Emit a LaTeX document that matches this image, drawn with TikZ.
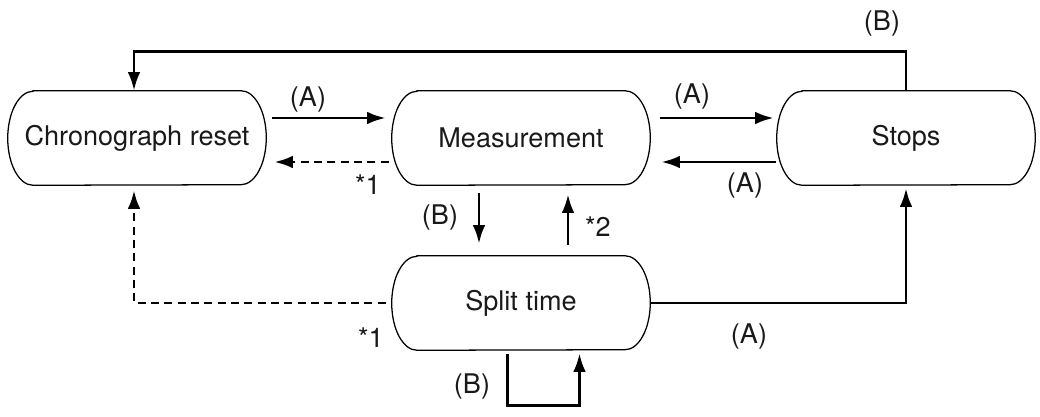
\documentclass[tikz,border=0pt]{standalone}
\usepackage{fontspec}
\setmainfont{TeX Gyre Heros}
\usetikzlibrary{arrows.meta}
\definecolor{ink}{RGB}{25,25,25}

\begin{document}
\begin{tikzpicture}[x=0.75pt,y=-0.75pt,
  every node/.style={font=\fontsize{20.3}{24}\selectfont,text=ink},
  state/.style={minimum width=193.5pt,minimum height=70.5pt,inner sep=0pt},
  outline/.style={line width=0.95pt},
  flow/.style={line width=2.2pt,-{Latex[length=14pt,width=9.5pt]}},
  back/.style={flow,dash pattern=on 6pt off 4pt}]
\useasboundingbox (0,0) rectangle (1040,417);
% states
\node[state](reset) at (137,138) {Chronograph reset};
\node[state](meas) at (521,138) {Measurement};
\node[state](stops) at (906,138) {Stops};
\node[state](split) at (521,303) {Split time};
% capsule outlines with half-ellipse ends
\foreach \n in {reset,meas,stops,split}
  \draw[outline] ([xshift=19pt]\n.north west) -- ([xshift=-19pt]\n.north east)
    arc[start angle=90,end angle=-90,x radius=19pt,y radius=35.25pt]
    -- ([xshift=19pt]\n.south west)
    arc[start angle=270,end angle=90,x radius=19pt,y radius=35.25pt] -- cycle;
% transitions
\draw[flow] (stops.north) -- ++(0,-39) -| ([shift={(-3,0)}]reset.north);
\draw[flow] ([shift={(6,-20)}]reset.east) -- ([shift={(-6,-20)}]meas.west);
\draw[back] ([shift={(-3,24)}]meas.west) -- ([shift={(8,24)}]reset.east);
\draw[flow] ([shift={(10,-20)}]meas.east) -- ([shift={(-3,-20)}]stops.west);
\draw[flow] ([shift={(-1,24)}]stops.west) -- ([shift={(11,24)}]meas.east);
\draw[flow] ([shift={(-42,8)}]meas.south) -- ([shift={(-42,-12)}]split.north);
\draw[flow] ([shift={(47,-11)}]split.north) -- ([shift={(47,9)}]meas.south);
\draw[back] ([shift={(-6,0)}]split.west) -| ([shift={(-3,5)}]reset.south);
\draw[flow] (split.east) -| ([shift={(0,3)}]stops.south);
\draw[flow] ([shift={(-13.5,4)}]split.south) -- ++(0,51) -| ([shift={(58.5,3)}]split.south);
% labels
\node(lTop) at (882,24) {(B)};
\node(lResMeas) at (308,100) {(A)};
\node(lMeasRes) at (368,185) {*1};
\node(lMeasStop) at (692,97) {(A)};
\node(lStopMeas) at (745,186) {(A)};
\node(lDown) at (440,218) {(B)};
\node(lUp) at (598,227) {*2};
\node(lSplitRes) at (371,338) {*1};
\node(lSplitStop) at (749,337) {(A)};
\node(lLoop) at (472,387) {(B)};
\end{tikzpicture}
\end{document}
